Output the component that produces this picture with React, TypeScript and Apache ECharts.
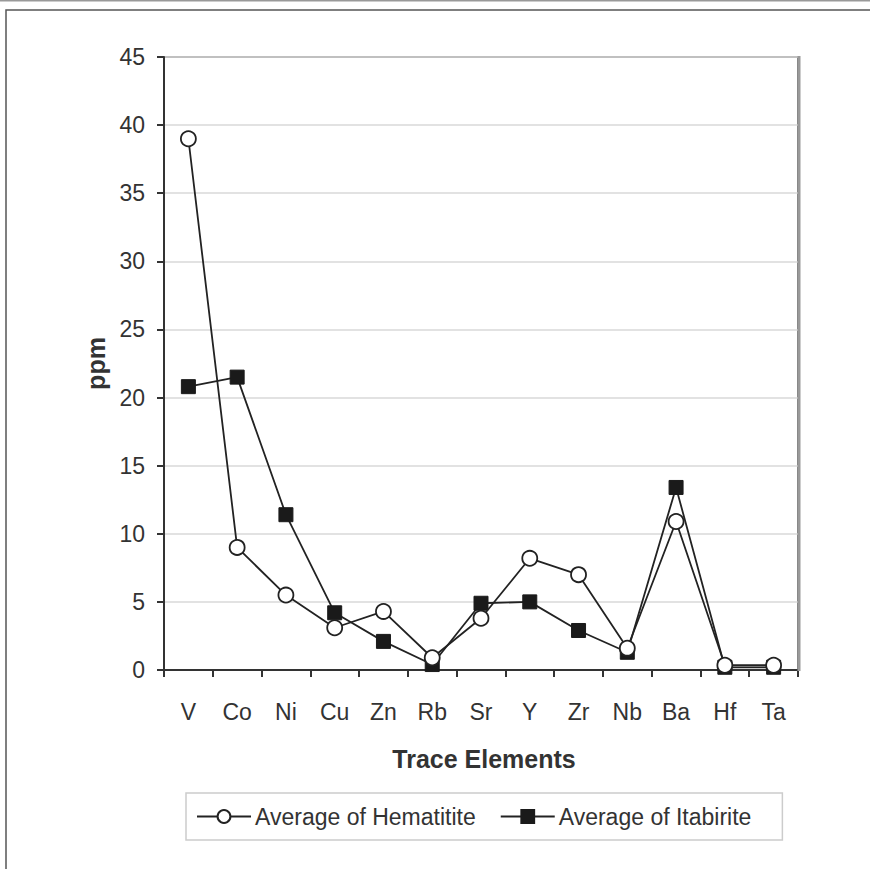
import React, { useEffect, useRef } from "react";
import * as echarts from "echarts";

const categories = ["V", "Co", "Ni", "Cu", "Zn", "Rb", "Sr", "Y", "Zr", "Nb", "Ba", "Hf", "Ta"];
const hematitite = [39.0, 9.0, 5.5, 3.1, 4.3, 0.9, 3.8, 8.2, 7.0, 1.6, 10.9, 0.35, 0.35];
const itabirite = [20.8, 21.5, 11.4, 4.2, 2.1, 0.4, 4.9, 5.0, 2.9, 1.3, 13.4, 0.2, 0.2];
const yMin = 0;
const yMax = 45;
const yStep = 5;

const FONT = "Liberation Sans, Arial, sans-serif";

export default function App() {
  const ref = useRef<HTMLDivElement>(null);
  useEffect(() => {
    if (!ref.current) return;
    const chart = echarts.init(ref.current, undefined, { renderer: "svg" });
    chart.setOption({
      animation: false,
      backgroundColor: "#ffffff",
      textStyle: { fontFamily: FONT },
      grid: {
        left: 164,
        top: 57,
        right: 72,
        bottom: 199,
        show: true,
        borderColor: "#777",
        borderWidth: 2,
        backgroundColor: "transparent",
      },
      legend: {
        left: 186,
        top: 793,
        orient: "horizontal",
        data: ["Average of Hematitite", "Average of Itabirite"],
        itemWidth: 54,
        itemHeight: 16,
        itemGap: 24,
        padding: [12, 31, 12, 10],
        borderColor: "#ccc",
        borderWidth: 1.5,
        textStyle: { fontFamily: FONT, fontSize: 23, color: "#333", padding: [0, 0, 0, -1] },
      },
      xAxis: {
        type: "category",
        data: categories,
        boundaryGap: true,
        name: "Trace Elements",
        nameLocation: "middle",
        nameGap: 76,
        nameTextStyle: { fontFamily: FONT, fontSize: 25, fontWeight: "bold", color: "#333", padding: [0, 0, 0, 6] },
        axisLine: { show: true, lineStyle: { color: "#333", width: 2 } },
        axisTick: { show: true, interval: 0, length: 7, alignWithLabel: false, lineStyle: { color: "#333", width: 2 } },
        axisLabel: { interval: 0, margin: 30, fontFamily: FONT, fontSize: 23, color: "#333" },
        splitLine: { show: false },
      },
      yAxis: {
        type: "value",
        min: yMin,
        max: yMax,
        interval: yStep,
        name: "ppm",
        nameLocation: "middle",
        nameGap: 56,
        nameTextStyle: { fontFamily: FONT, fontSize: 25, fontWeight: "bold", color: "#333" },
        axisLine: { show: true, lineStyle: { color: "#333", width: 2 } },
        axisTick: { show: true, length: 7, lineStyle: { color: "#333", width: 2 } },
        axisLabel: { margin: 19, fontFamily: FONT, fontSize: 23, color: "#333" },
        splitLine: { show: true, lineStyle: { color: "#d8d8d8", width: 1.5 } },
      },
      series: [
        {
          name: "Average of Itabirite",
          type: "line",
          data: itabirite,
          symbol: "rect",
          symbolSize: 14,
          showAllSymbol: true,
          lineStyle: { color: "#222", width: 1.8 },
          itemStyle: { color: "#1a1a1a", borderColor: "#1a1a1a", borderWidth: 1 },
          z: 2,
        },
        {
          name: "Average of Hematitite",
          type: "line",
          data: hematitite,
          symbol: "circle",
          symbolSize: 15,
          showAllSymbol: true,
          lineStyle: { color: "#222", width: 1.8 },
          itemStyle: { color: "#ffffff", borderColor: "#222", borderWidth: 1.8 },
          z: 3,
        },
      ],
      graphic: [
        { type: "line", shape: { x1: 0, y1: 0.5, x2: 870, y2: 0.5 }, style: { stroke: "#999", lineWidth: 2 } },
        { type: "rect", shape: { x: 6, y: 10, width: 900, height: 900 }, style: { fill: "none", stroke: "#555", lineWidth: 1.5 } },
        { type: "line", shape: { x1: 799, y1: 56, x2: 799, y2: 671 }, style: { stroke: "#999", lineWidth: 3 }, z: 1 },
      ],
    });
    return () => chart.dispose();
  }, []);
  return (
    <div
      ref={ref}
      style={{ position: "fixed", left: 0, top: 0, width: 870, height: 869, background: "#fff" }}
    />
  );
}
